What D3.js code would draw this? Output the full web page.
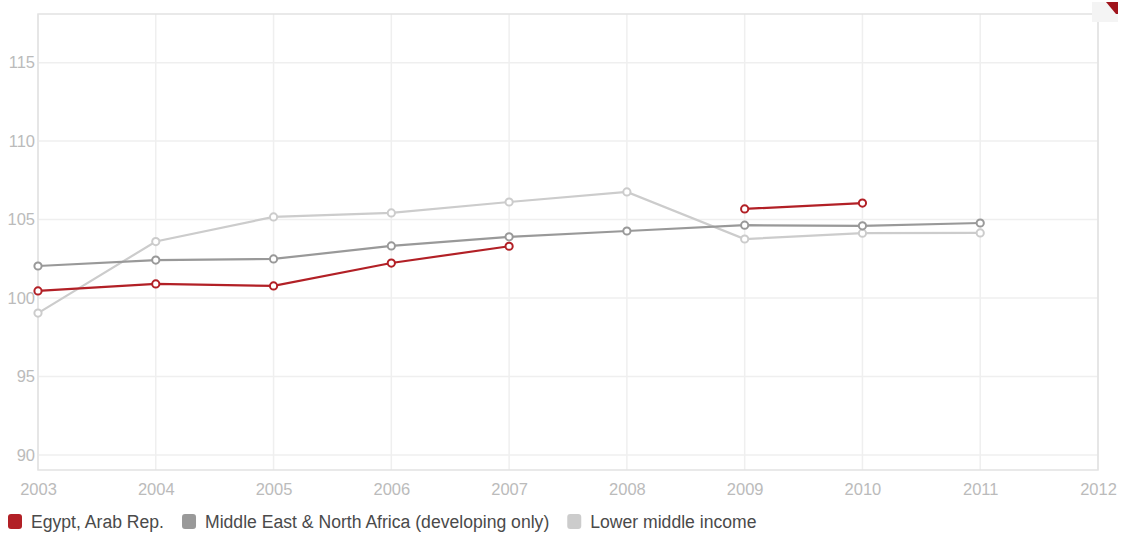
<!DOCTYPE html>
<html>
<head>
<meta charset="utf-8">
<script src="https://cdn.jsdelivr.net/npm/d3@7"></script>
<style>
  body { margin: 0; background: #fff; }
  svg { font-family: "Liberation Sans", Arial, sans-serif; }
</style>
</head>
<body>
<div id="chart"></div>
<script>
// data
var years = [2003, 2004, 2005, 2006, 2007, 2008, 2009, 2010, 2011];
var egypt = [100.45, 100.9, 100.77, 102.23, 103.3, null, 105.68, 106.05, null];
var mena  = [102.04, 102.42, 102.49, 103.32, 103.9, 104.27, 104.64, 104.6, 104.78];
var lmi   = [99.04, 103.6, 105.17, 105.42, 106.12, 106.76, 103.76, 104.13, 104.15];
var seriesNames = ["Egypt, Arab Rep.", "Middle East & North Africa (developing only)", "Lower middle income"];
var seriesColors = ["#b22026", "#999999", "#cccccc"];
var yTicks = [90, 95, 100, 105, 110, 115];
var xTicks = d3.range(2003, 2013);

var W = 1125, H = 537;
var margin = {top: 14, right: 27, bottom: 67, left: 38};
var width = W - margin.left - margin.right,
    height = H - margin.top - margin.bottom;

var svg = d3.select("#chart").append("svg")
    .attr("width", W).attr("height", H);

var g = svg.append("g")
    .attr("transform", "translate(" + margin.left + "," + margin.top + ")");

var x = d3.scaleLinear().domain([2003, 2012]).range([0, width]);
var y = d3.scaleLinear().domain([89.04, 118.1]).range([height, 0]);

// grid
g.selectAll(".vgrid").data(xTicks).enter().append("line")
  .attr("x1", d => x(d)).attr("x2", d => x(d))
  .attr("y1", 0).attr("y2", height)
  .attr("stroke", "#efefef").attr("stroke-width", 1.5);
g.selectAll(".hgrid").data(yTicks).enter().append("line")
  .attr("x1", 0).attr("x2", width)
  .attr("y1", d => y(d)).attr("y2", d => y(d))
  .attr("stroke", "#efefef").attr("stroke-width", 1.5);

// frame
g.append("rect")
  .attr("x", 0).attr("y", 0).attr("width", width).attr("height", height)
  .attr("fill", "none").attr("stroke", "#e2e2e2").attr("stroke-width", 1.5);

// axes labels
var xAxis = d3.axisBottom(x).tickValues(xTicks).tickFormat(d3.format("d")).tickSize(0).tickPadding(13);
var xg = g.append("g").attr("transform", "translate(0," + height + ")").call(xAxis);
var yAxis = d3.axisLeft(y).tickValues(yTicks).tickSize(0).tickPadding(3);
var yg = g.append("g").call(yAxis);
[xg, yg].forEach(function(a) {
  a.select(".domain").remove();
  a.selectAll("text").attr("fill", "#bbbbbb").style("font-size", "16.5px")
    .style("font-family", "\"Liberation Sans\", Arial, sans-serif");
});

// lines
var allSeries = [egypt, mena, lmi];
var line = d3.line()
  .defined(d => d.v != null)
  .x(d => x(d.year)).y(d => y(d.v));

// draw back-to-front: light first
[2, 1, 0].forEach(function(i) {
  var pts = years.map((yr, j) => ({year: yr, v: allSeries[i][j]}));
  g.append("path").datum(pts)
    .attr("d", line)
    .attr("fill", "none")
    .attr("stroke", seriesColors[i])
    .attr("stroke-width", 2.2);
  g.selectAll(".pt" + i).data(pts.filter(d => d.v != null)).enter().append("circle")
    .attr("cx", d => x(d.year)).attr("cy", d => y(d.v))
    .attr("r", 3.6)
    .attr("fill", "#fff")
    .attr("stroke", seriesColors[i])
    .attr("stroke-width", 2);
});

// legend
var lx = 8;
seriesNames.forEach(function(name, i) {
  svg.append("rect")
    .attr("x", lx).attr("y", 514).attr("width", 14).attr("height", 15)
    .attr("rx", 3).attr("fill", seriesColors[i]);
  var t = svg.append("text")
    .attr("x", lx + 23).attr("y", 528)
    .attr("fill", "#4a4a4a")
    .style("font-size", "17.6px")
    .text(name);
  lx += 23 + t.node().getComputedTextLength() + 18;
});

// folded corner badge top-right
var badge = svg.append("g").attr("transform", "translate(1092,2)");
badge.append("rect").attr("width", 26).attr("height", 20).attr("fill", "#f4f4f4");
badge.append("polygon").attr("points", "14,0 26,0 26,12 24,12").attr("fill", "#a0141c");
</script>
</body>
</html>
